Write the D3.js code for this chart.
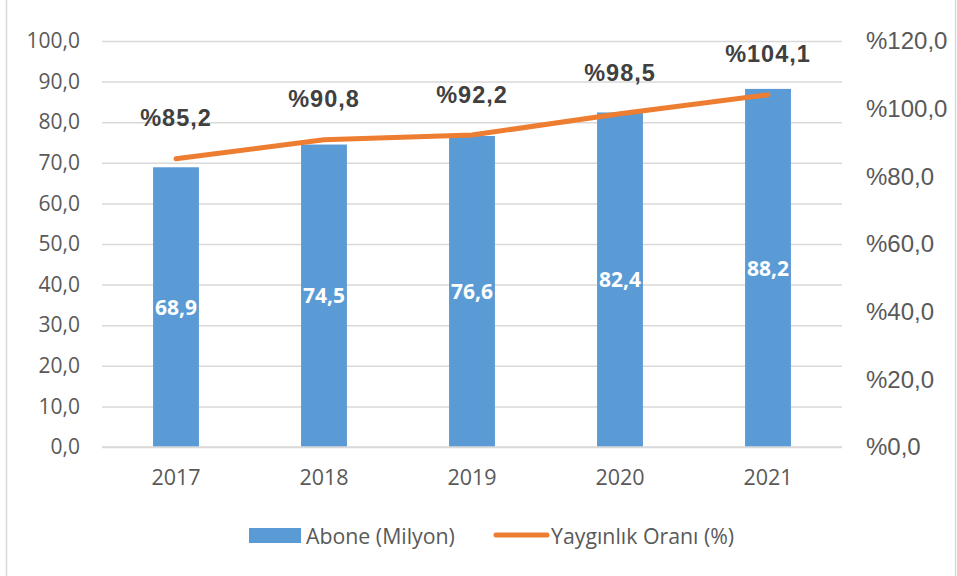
<!DOCTYPE html>
<html><head><meta charset="utf-8">
<script src="https://cdn.jsdelivr.net/npm/d3@7"></script>
<style>body{margin:0;background:#fff}svg{display:block}</style>
</head><body>
<svg id="c" width="957" height="576"></svg>
<script>
const categories = ["2017","2018","2019","2020","2021"];
const aboneValues = [68.9, 74.5, 76.6, 82.4, 88.2];
const oranValues = [85.2, 90.8, 92.2, 98.5, 104.1];
const leftTicks = [0,10,20,30,40,50,60,70,80,90,100];
const rightTicks = [0,20,40,60,80,100,120];
const seriesNames = ["Abone (Milyon)", "Yaygınlık Oranı (%)"];

const fmt = v => d3.format(".1f")(v).replace(".", ",");
const svg = d3.select("#c");
const W = 957, H = 576;
const plot = {left:102, right:842, top:41, bottom:447};
const blue = "#5B9BD5", orange = "#ED7D31", grid = "#D9D9D9";

svg.append("rect").attr("x",6.5).attr("y",-2).attr("width",W-8).attr("height",H+4)
  .attr("fill","#fff").attr("stroke",grid).attr("stroke-width",1.5);

const x = d3.scaleBand().domain(categories).range([plot.left, plot.right]).paddingInner(0.69).paddingOuter(0.345);
const yL = d3.scaleLinear().domain([0,100]).range([plot.bottom, plot.top]);
const yR = d3.scaleLinear().domain([0,120]).range([plot.bottom, plot.top]);

// gridlines
svg.append("g").attr("transform",`translate(${plot.left},0)`)
  .call(d3.axisLeft(yL).tickValues(leftTicks).tickSize(-(plot.right-plot.left)).tickFormat(""))
  .call(g=>{g.select(".domain").remove();g.selectAll("line").attr("stroke",grid).attr("stroke-width",1.5);});

// left axis labels
svg.append("g").attr("transform",`translate(${plot.left},0)`)
  .call(d3.axisLeft(yL).tickValues(leftTicks).tickSize(0).tickPadding(22).tickFormat(fmt))
  .call(g=>{g.select(".domain").remove();g.selectAll("text").attr("font-family","'Open Sans', sans-serif").attr("font-size",21).attr("fill","#595959");});

// right axis labels
svg.append("g").attr("transform",`translate(${plot.right},0)`)
  .call(d3.axisRight(yR).tickValues(rightTicks).tickSize(0).tickPadding(24).tickFormat(d=>"%"+fmt(d)))
  .call(g=>{g.select(".domain").remove();g.selectAll("text").attr("font-family","'Liberation Sans', Arial, sans-serif").attr("font-size",24).attr("fill","#595959");});

// x axis
svg.append("g").attr("transform",`translate(0,${plot.bottom})`)
  .call(d3.axisBottom(x).tickSize(0).tickPadding(23))
  .call(g=>{g.select(".domain").remove();g.selectAll("text").attr("font-family","'Open Sans', sans-serif").attr("font-size",21.5).attr("fill","#595959");});

// bars
svg.append("g").selectAll("rect").data(aboneValues).join("rect")
  .attr("x",(d,i)=>x(categories[i])).attr("width",x.bandwidth())
  .attr("y",d=>yL(d)).attr("height",d=>yL(0)-yL(d)).attr("fill",blue);

// baseline
svg.append("line").attr("x1",plot.left).attr("x2",plot.right).attr("y1",plot.bottom).attr("y2",plot.bottom)
  .attr("stroke",grid).attr("stroke-width",1.5);

// bar labels
svg.append("g").selectAll("text").data(aboneValues).join("text")
  .attr("x",(d,i)=>x(categories[i])+x.bandwidth()/2)
  .attr("y",d=>(yL(d)+yL(0))/2).attr("dy","0.36em")
  .attr("text-anchor","middle").attr("font-family","'Open Sans', sans-serif").attr("font-weight","bold")
  .attr("font-size",21).attr("fill","#fff").text(d=>fmt(d));

// line
const cx = (i)=>x(categories[i])+x.bandwidth()/2;
svg.append("path").datum(oranValues)
  .attr("d",d3.line().x((d,i)=>cx(i)).y(d=>yR(d)))
  .attr("fill","none").attr("stroke",orange).attr("stroke-width",5).attr("stroke-linecap","round").attr("stroke-linejoin","round");

// line labels
svg.append("g").selectAll("text").data(oranValues).join("text")
  .attr("x",(d,i)=>cx(i)).attr("y",d=>yR(d)-41).attr("dy","0.36em")
  .attr("text-anchor","middle").attr("font-family","'Liberation Sans', Arial, sans-serif").attr("font-weight","bold")
  .attr("font-size",23.5).attr("letter-spacing",1).attr("fill","#404040").text(d=>"%"+fmt(d));

// legend
const lg = svg.append("g");
lg.append("rect").attr("x",249).attr("y",528).attr("width",52).attr("height",15).attr("fill",blue);
lg.append("text").attr("x",306).attr("y",536).attr("dy","0.36em").attr("font-family","'Open Sans', sans-serif")
  .attr("font-size",21.3).attr("fill","#595959").text(seriesNames[0]);
lg.append("line").attr("x1",496).attr("x2",547).attr("y1",535).attr("y2",535).attr("stroke",orange).attr("stroke-width",5).attr("stroke-linecap","round");
lg.append("text").attr("x",551).attr("y",536).attr("dy","0.36em").attr("font-family","'Open Sans', sans-serif")
  .attr("font-size",21.3).attr("fill","#595959").text(seriesNames[1]);
</script>
</body></html>
